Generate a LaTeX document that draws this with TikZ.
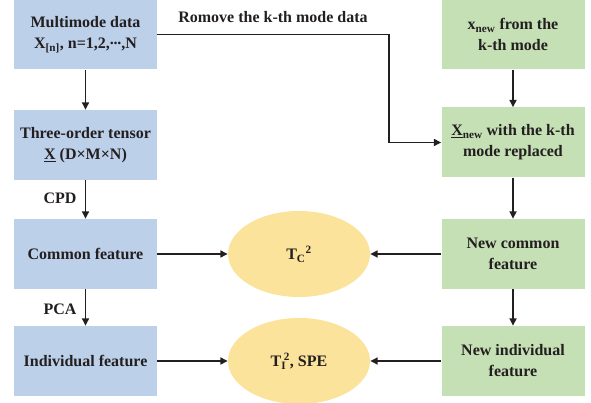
\documentclass[tikz,border=0pt]{standalone}
\usepackage{fontspec}
\setmainfont{Liberation Serif}
\usetikzlibrary{shapes.geometric,arrows.meta}
\definecolor{bluebox}{HTML}{BDD0E9}
\definecolor{greenbox}{HTML}{C5E0B4}
\definecolor{yellowfill}{HTML}{FBE39B}
\definecolor{ink}{HTML}{231F20}
\newcommand{\mydots}{\raisebox{0.22em}{.\kern-0.02em.\kern-0.02em.}}
\begin{document}
\begin{tikzpicture}[x=1pt,y=-1pt,
  box/.style={rectangle, minimum width=143pt, minimum height=70pt, inner sep=0pt, align=center,
    font=\fontsize{16}{21}\selectfont\bfseries, text=ink},
  lbox/.style={box, fill=bluebox},
  rbox/.style={box, fill=greenbox},
  oval/.style={ellipse, fill=yellowfill, minimum width=142pt, minimum height=86pt, inner sep=0pt,
    font=\fontsize{16}{21}\selectfont\bfseries, text=ink},
  arr/.style={draw=ink, line width=1.6pt, -{Triangle[length=7.5pt,width=7pt]}},
  lab/.style={font=\fontsize{16}{21}\selectfont\bfseries, text=ink, inner sep=0pt}]
\useasboundingbox (0,0) rectangle (591,403);
\node[lbox] (L1) at (85.5,34.5) {Multimode data\\X\textsubscript{[n]}, n=1,2,\mydots,N};
\node[lbox] (L2) at (85.5,145) {Three-order tensor\\\underline{X} (D×M×N)};
\node[lbox] (L3) at (85.5,254) {Common feature};
\node[lbox] (L4) at (85.5,361) {Individual feature};
\node[rbox] (R1) at (513,34.5) {x\textsubscript{new} from the\\k-th mode};
\node[rbox] (R2) at (513,142.5) {\underline{X}\textsubscript{new} with the k-th\\mode replaced};
\node[rbox] (R3) at (513,254) {New common\\feature};
\node[rbox] (R4) at (513,361) {New individual\\feature};
\node[oval] (E1) at (299,254) {T\textsubscript{C}\textsuperscript{2}};
\node[oval] (E2) at (299,361) {T\textsubscript{I}\kern-0.15em\textsuperscript{2}, SPE};
\node[lab] (tRemove) at (273,17) {Romove the k-th mode data};
\node[lab] (tCPD) at (60,198) {CPD};
\node[lab] (tPCA) at (60,309) {PCA};
\coordinate (bend) at (389,34.5);
\draw[arr] (L1) -- (L2);
\draw[arr] (L2) -- (L3);
\draw[arr] (L3) -- (L4);
\draw[arr] (R1) -- (R2);
\draw[arr] (R2) -- (R3);
\draw[arr] (R3) -- (R4);
\draw[arr] (L3.east) -- (E1);
\draw[arr] (L4.east) -- (E2);
\draw[arr] (R3.west) -- (E1);
\draw[arr] (R4.west) -- (E2);
\draw[arr] (L1.east) -- (bend) |- (R2.west);
\end{tikzpicture}
\end{document}
